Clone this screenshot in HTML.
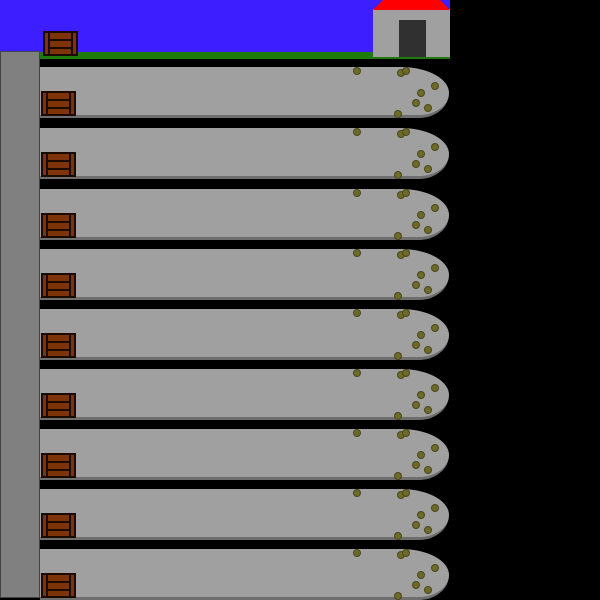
<!DOCTYPE html>
<html><head><meta charset="utf-8"><style>
body{margin:0;background:#000;width:600px;height:600px;overflow:hidden;position:relative}
div{position:absolute;box-sizing:border-box}
.crate{background:#7f3308;border:2px solid #1a0a00;width:35px;height:25px}
.crate:before{content:"";position:absolute;left:3px;right:3px;top:0;bottom:0;border-left:2px solid #1a0a00;border-right:2px solid #1a0a00}
.crate:after{content:"";position:absolute;left:3px;right:3px;top:6px;height:6px;border-top:2px solid #1a0a00;border-bottom:2px solid #1a0a00}
.lane{left:40px;width:409px;height:51px;background:#a0a0a0;border-bottom:3px solid #6e6e6e;border-radius:0 48px 30px 0/0 26px 25px 0}
.dot{width:8px;height:8px;border-radius:50%;background:#6e6a2a;border:1px solid #4a4818}
</style></head><body>
<div style="left:0;top:0;width:450px;height:52px;background:#3c1eff"></div>
<div style="left:40px;top:52px;width:410px;height:7px;background:#1e7a0a"></div>
<div style="left:373px;top:9px;width:77px;height:48px;background:#a0a0a0"></div>
<svg style="position:absolute;left:373px;top:0" width="77" height="10"><polygon points="10,0 67,0 77,10 0,10" fill="#ff0000"/></svg>
<div style="left:399px;top:20px;width:27px;height:37px;background:#303030"></div>
<div class="crate" style="left:43px;top:31px"></div>
<div style="left:0;top:51px;width:40px;height:547px;background:#808080;border:1px solid #444"></div>
<div id="lanes"></div>
<script>
const laneTops=[67,128,189,249,309,369,429,489,549];
const dots=[[357,71],[401,73],[406,71],[435,86],[421,93],[416,103],[428,108],[398,114]];
const root=document.body;
laneTops.forEach((t,i)=>{
  const l=document.createElement('div');l.className='lane';l.style.top=t+'px';
  
  
  root.appendChild(l);
  const c=document.createElement('div');c.className='crate';c.style.left='41px';c.style.top=(t+24)+'px';
  
  
  root.appendChild(c);
  dots.forEach(d=>{
    const o=document.createElement('div');o.className='dot';
    o.style.left=(d[0]-4)+'px';o.style.top=(d[1]-67+t-4)+'px';
    
    
    root.appendChild(o);
  });
});
</script>
</body></html>
